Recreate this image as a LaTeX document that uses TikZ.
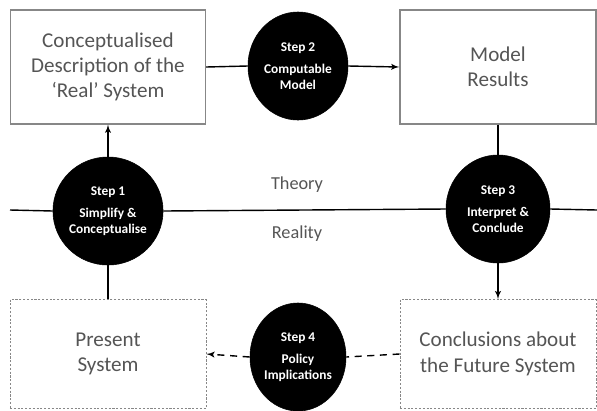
\documentclass[tikz,border=0pt]{standalone}
\usepackage{fontspec}
\setmainfont{Carlito}
\usetikzlibrary{arrows,positioning,calc,shapes.geometric}
\definecolor{boxgray}{RGB}{135,135,135}
\definecolor{txtgray}{RGB}{85,85,85}
\tikzset{
  sysbox/.style={draw=boxgray,line width=1pt,fill=white,align=center,text=txtgray,
                 font=\fontsize{15}{18}\selectfont,inner sep=4pt},
  thybox/.style={sysbox,minimum width=4.875cm,minimum height=2.85cm},
  realbox/.style={sysbox,minimum width=4.9cm,minimum height=2.725cm,line width=0.6pt,
                  dash pattern=on 1.5pt off 1.2pt},
  stepnode/.style={ellipse,fill=black,draw=black,text=white,align=center,inner sep=0pt,
                   minimum width=2.6cm,minimum height=2.7cm,
                   font=\fontsize{9.5}{11}\selectfont\bfseries},
  realm/.style={text=txtgray,font=\fontsize{13}{15}\selectfont},
  ln/.style={line width=1pt},
  arr/.style={-latex',line width=1pt},
  darr/.style={-latex',line width=1pt,dash pattern=on 5pt off 4pt},
}

\begin{document}
\begin{tikzpicture}[x=0.025cm,y=-0.025cm]
\useasboundingbox (0,0) rectangle (597,410);
% theory side
\node[thybox] (concept) at (108,67) {Conceptualised\\ Description of the\\ `Real' System};
\node[thybox,minimum width=4.9cm] (results) at (498,67) {Model\\ Results};
% reality side
\node[realbox] (present) at (108,354) {Present\\ System};
\node[realbox] (future) at (498,354) {Conclusions about\\ the Future System};
% the four steps
\node[stepnode] (s1) at (108,211) {Step 1\\[5pt] Simplify \&\\ Conceptualise};
\node[stepnode,minimum width=2.5cm] (s2) at (298,66) {Step 2\\[5pt] Computable\\ Model};
\node[stepnode] (s3) at (498,209) {Step 3\\[5pt] Interpret \&\\ Conclude};
\node[stepnode,minimum width=2.4cm] (s4) at (298,357) {Step 4\\[5pt] Policy\\ Implications};
% theory / reality divide
\coordinate (wl) at (10,210);
\coordinate (wr) at (597,210);
\draw[ln] (wl) -- (s1.west);
\draw[ln] (s1.east) -- (s3.west);
\draw[ln] (s3.east) -- (wr);
\node[realm] (thy) at (297,185) {Theory};
\node[realm] (rea) at (297,234) {Reality};
% connectors
\draw[ln] (present.north) -- (s1.south);
\draw[arr] (s1.north) -- (concept.south);
\draw[ln] (concept.east) -- (s2.west);
\draw[arr] (s2.east) -- (results.west);
\draw[ln] (results.south) -- (s3.north);
\draw[arr] (s3.south) -- (future.north);
\draw[ln,dash pattern=on 5pt off 4pt] (future.west) -- (s4.east);
\draw[darr] (s4.west) -- (present.east);
\end{tikzpicture}
\end{document}
